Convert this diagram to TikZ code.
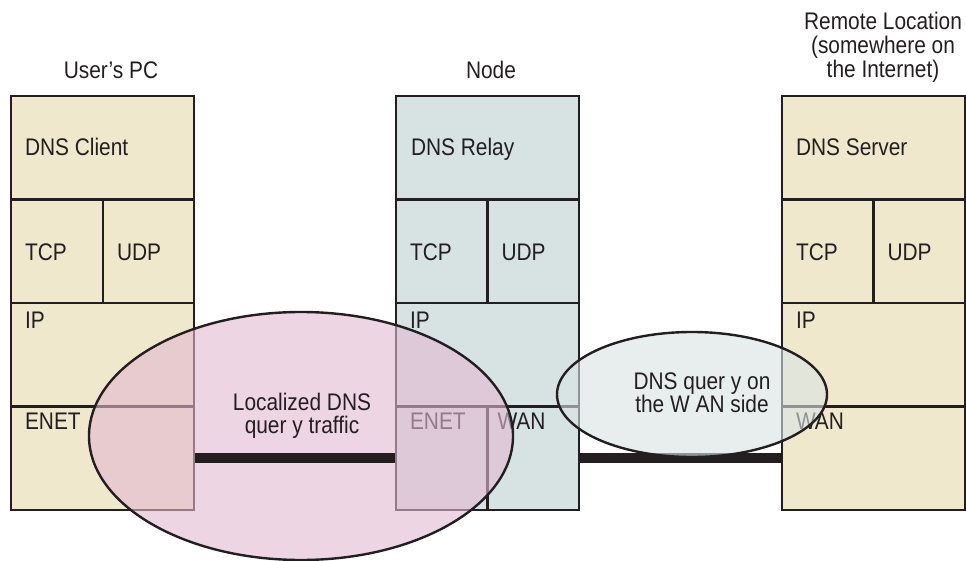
\documentclass[tikz,border=0pt]{standalone}
\usepackage{fontspec}
\setmainfont[FakeStretch=0.87]{Liberation Sans}
\usetikzlibrary{shapes.geometric,calc}
\definecolor{tanfill}{RGB}{240,232,205}
\definecolor{bluefill}{RGB}{215,227,227}
\definecolor{linecol}{RGB}{35,31,32}
\definecolor{pinkfill}{RGB}{225,185,208}
\definecolor{palefill}{RGB}{217,227,227}
\begin{document}
\begin{tikzpicture}[x=1pt,y=-1pt,
  cell/.style={draw=linecol,line width=2.4pt,rectangle,inner sep=0pt,minimum height=103.5pt},
  wide/.style={cell,minimum width=183pt},
  half/.style={cell,minimum width=91.5pt},
  lbl/.style={anchor=base west,inner sep=0pt,font=\fontsize{24}{25}\selectfont,text=linecol},
  ttl/.style={align=center,inner sep=0pt,font=\fontsize{24}{25}\selectfont,text=linecol},
  wire/.style={draw=linecol,line width=10pt},
  bubble/.style={ellipse,draw=linecol,line width=2.4pt,inner sep=0pt}
]
\useasboundingbox (0,0) rectangle (966,561);
% ---- User's PC stack
\node[wide,fill=tanfill] (lc1) at (102.5,147.75) {};
\node[half,fill=tanfill,minimum width=92pt] (lc2a) at (57,251.25) {};
\node[half,fill=tanfill,minimum width=91pt] (lc2b) at (148.5,251.25) {};
\node[wide,fill=tanfill] (lc3) at (102.5,354.75) {};
\node[wide,fill=tanfill] (lc4) at (102.5,458.25) {};
% ---- Node stack
\node[wide,fill=bluefill] (mc1) at (487.5,147.75) {};
\node[half,fill=bluefill] (mc2a) at (441.75,251.25) {};
\node[half,fill=bluefill] (mc2b) at (533.25,251.25) {};
\node[wide,fill=bluefill] (mc3) at (487.5,354.75) {};
\node[half,fill=bluefill] (mc4a) at (441.75,458.25) {};
\node[half,fill=bluefill] (mc4b) at (533.25,458.25) {};
% ---- Remote stack
\node[wide,fill=tanfill] (rc1) at (873.5,147.75) {};
\node[half,fill=tanfill] (rc2a) at (827.75,251.25) {};
\node[half,fill=tanfill] (rc2b) at (919.25,251.25) {};
\node[wide,fill=tanfill] (rc3) at (873.5,354.75) {};
\node[wide,fill=tanfill] (rc4) at (873.5,458.25) {};
% ---- titles
\node[ttl] (t1) at (111,70) {User’s PC};
\node[ttl] (t2) at (491,70) {Node};
\node[ttl] (t3) at (883,47) {Remote Location\\[-1pt](somewhere on\\[-1pt]the Internet)};
% ---- labels in cells
\node[lbl] (l1) at ($(lc1.north west)+(15,61)$) {DNS Client};
\node[lbl] (l2) at ($(lc2a.north west)+(15,62)$) {TCP};
\node[lbl] (l3) at ($(lc2b.north west)+(15,62)$) {UDP};
\node[lbl] (l4) at ($(lc3.north west)+(15,27)$) {IP};
\node[lbl] (l5) at ($(lc4.north west)+(15,24.5)$) {ENET};
\node[lbl] (m1) at ($(mc1.north west)+(16,61)$) {DNS Relay};
\node[lbl] (m2) at ($(mc2a.north west)+(15,62)$) {TCP};
\node[lbl] (m3) at ($(mc2b.north west)+(15,62)$) {UDP};
\node[lbl] (m4) at ($(mc3.north west)+(15,27)$) {IP};
\node[lbl] (m5) at ($(mc4a.north west)+(15,24.5)$) {ENET};
\node[lbl] (m6) at ($(mc4b.north west)+(11,24.5)$) {WAN};
\node[lbl] (r1) at ($(rc1.north west)+(15,61)$) {DNS Server};
\node[lbl] (r2) at ($(rc2a.north west)+(15,62)$) {TCP};
\node[lbl] (r3) at ($(rc2b.north west)+(15,62)$) {UDP};
\node[lbl] (r4) at ($(rc3.north west)+(15,27)$) {IP};
\node[lbl] (r5) at ($(rc4.north west)+(15,24.5)$) {WAN};
% ---- right link (under the bubble)
\draw[wire] (mc4b.east) -- (rc4.west);
% ---- bubbles
\node[bubble,fill=pinkfill,fill opacity=0.6,minimum width=424pt,minimum height=248pt] (e1) at (301,436) {};
\node[bubble,fill=palefill,fill opacity=0.6,minimum width=270pt,minimum height=125pt] (e2) at (692,394.5) {};
% ---- left link (on top of the bubble)
\draw[wire] (lc4.east) -- (mc4a.west);
\node[ttl] (e1t) at (302,416) {Localized DNS\\[-2pt]quer y traffic};
\node[ttl] (e2t) at (702,393) {DNS quer y on\\[-2pt]the W AN side};
\end{tikzpicture}
\end{document}
